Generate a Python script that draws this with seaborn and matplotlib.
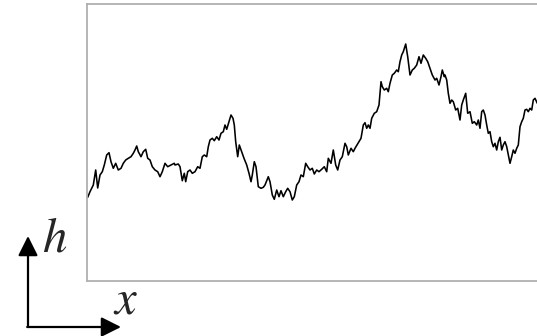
import matplotlib
matplotlib.use("Agg")
import matplotlib.pyplot as plt
import seaborn as sns
import pandas as pd

# Position along x (pixels from left of frame) and height h
x_pos = [0.7, 3, 6.3, 8.7, 10.7, 13, 15.3, 17.3, 19.7, 22, 24, 26.3, 28.7, 31.3, 34, 36.3, 38.7,
         41.3, 44, 46.3, 48, 49.7, 51.3, 54, 56.3, 58.7, 60.7, 63, 65.3, 68, 70.7, 73, 75.3, 78,
         80.7, 84, 87.3,
         88, 91.3, 93, 95.3, 97.3, 98.7, 100.7, 103, 105.3, 108, 110.7, 113, 115.3, 117.3, 119.7,
         121.3, 123, 125.3, 127.3, 129.7, 132, 134, 136.3, 138, 139.7, 142, 144, 146, 147.3, 148.7,
         150.7, 152.3, 154.7, 157, 159.7, 162, 164, 165.3, 167.3, 169, 171.3, 174, 176.3,
         178, 181.3, 183, 185.3, 187.3, 189.7, 192, 194, 196.3, 198.7, 200.7, 203, 205.3, 207.3,
         209.7, 212, 214, 216.3, 218.7, 220.7, 223, 225.3, 227.3, 229.7, 232, 234.7, 237.3, 239.7,
         241.3, 244, 246.3, 248.7, 250.7, 253, 255.3, 258, 259.7, 261.3, 264, 266.3, 268,
         274, 276.3, 278, 279.7, 281.3, 283, 284.7, 287.3, 289.7, 292, 294, 295.3, 297.3, 299.7,
         301.3, 303, 305.3, 307.3, 309.7, 311.3, 313, 314.7, 316.3, 318.7, 320.7, 323, 325.3, 327.3,
         329.7, 332, 334, 336.3, 338.7, 340.7, 343, 345.3, 348, 349.7, 352, 354, 355.3, 357.3,
         358, 359.7, 361.3, 363, 364.7, 366.3, 368.7, 370.7, 373, 374.7, 376.3, 378.7, 380.7, 383,
         385.3, 387.3, 389.7, 391.3, 393, 394.7, 396.3, 398, 399.7, 401.3, 403, 404.7, 406.3, 408,
         409.7, 411.3, 413, 414.7, 416.3, 418, 419.7, 421.3, 423, 424.7, 426.3, 428, 429.7, 431.3,
         433, 434.7, 436.3, 438, 439.7, 441.3, 443, 444.7, 446.3, 448, 450.3]

h_vals = [83.7, 89.3, 96, 111, 93, 106, 109.3, 116, 126, 128.3, 119.3, 112.7, 117.7, 111, 112.7,
          117.7, 121, 122.7, 124.3, 127.7, 131, 135, 129.3, 124.3, 129.3, 131.7, 122.7, 121, 114.3,
          111, 109.3, 104.3, 109.3, 117.7, 114.3, 116, 117.7,
          116, 117, 114.3, 100.3, 107.7, 99.3, 109.3, 111, 107.7, 109.3, 114.3, 112.7, 124.3, 126,
          124.3, 134.3, 141, 142.7, 140.3, 144.3, 141, 147.7, 149.3, 156, 151.7, 159.3, 166, 162.7,
          156, 139.3, 124.3, 136, 129.3, 122.7, 116, 107.7, 99.3, 106, 119.3, 114.3, 94.3, 92.7, 93.7,
          96, 104.3, 99.3, 86, 81.7, 91, 84.3, 90.3, 84.3, 89.3, 92.7, 89.3, 81, 84.3, 96, 99.3,
          106, 104.3, 117.7, 114.3, 111, 112.7, 107, 111, 109.3, 111.7, 114.3, 109.3, 122.7, 117.7,
          131, 116, 111, 121, 124.3, 137.7, 134.3, 126, 132.7, 129.3, 132.7,
          142.7, 156, 158.3, 152.7, 156, 152.7, 162.7, 167.7, 169.3, 176, 199.3, 194.3, 191, 192.7,
          189.3, 197.7, 206, 207.7, 211, 209.3, 219.3, 226, 229.3, 237, 224.3, 206, 211, 212.7,
          216, 224.3, 217.7, 226, 222.7, 219.3, 212.7, 206, 201, 202.7, 196, 204.3, 211, 204.3,
          206, 201, 187.7, 177.7, 181, 179.3, 171, 172.7, 161, 176, 181, 187.7, 167.7, 169.3,
          157.7, 159.3, 156, 161, 152.7, 169.3, 171, 166, 156, 147.7, 149.3, 139.3, 134.3, 137.7,
          131, 139.3, 143.7, 131, 136, 139.3, 134.3, 126, 117.7, 124.3, 131, 127.7, 132.7, 136,
          154.3, 159.3, 162.7, 171, 171.7, 169.3, 172.7, 171, 181, 182.7, 177.7]

axis_labels = ["h", "x"]

df = pd.DataFrame({"x": x_pos, "h": h_vals})

sns.set_style("white")
plt.rcParams["mathtext.fontset"] = "stix"

W, H = 537, 336
fig = plt.figure(figsize=(W / 100, H / 100), dpi=100)
ax = fig.add_axes([87 / W, 55 / H, 458 / W, 277 / H])

sns.lineplot(data=df, x="x", y="h", ax=ax, color="black", linewidth=1.15, sort=False)

ax.set_xlim(0, 458)
ax.set_ylim(0, 277)
ax.set_xticks([])
ax.set_yticks([])
ax.set_xlabel("")
ax.set_ylabel("")
for s in ax.spines.values():
    s.set_color("#b0b0b0")
    s.set_linewidth(1.3)

# axis direction arrows
arrow_kw = dict(arrowstyle="-|>,head_length=0.6,head_width=0.3", color="black",
                lw=1.6, shrinkA=0, shrinkB=0, mutation_scale=20)
ax.annotate("", xy=(28, 336 - 236), xytext=(28, 336 - 327),
            xycoords="figure pixels", textcoords="figure pixels",
            arrowprops=arrow_kw, annotation_clip=False)
ax.annotate("", xy=(121, 336 - 327), xytext=(27.2, 336 - 327),
            xycoords="figure pixels", textcoords="figure pixels",
            arrowprops=arrow_kw, annotation_clip=False)

fig.text(42 / W, (336 - 252) / H, "$" + axis_labels[0] + "$",
         fontsize=35, ha="left", va="baseline")
fig.text(113 / W, (336 - 313) / H, "$" + axis_labels[1] + "$",
         fontsize=35, ha="left", va="baseline")

fig.savefig("out.png", dpi=100)
